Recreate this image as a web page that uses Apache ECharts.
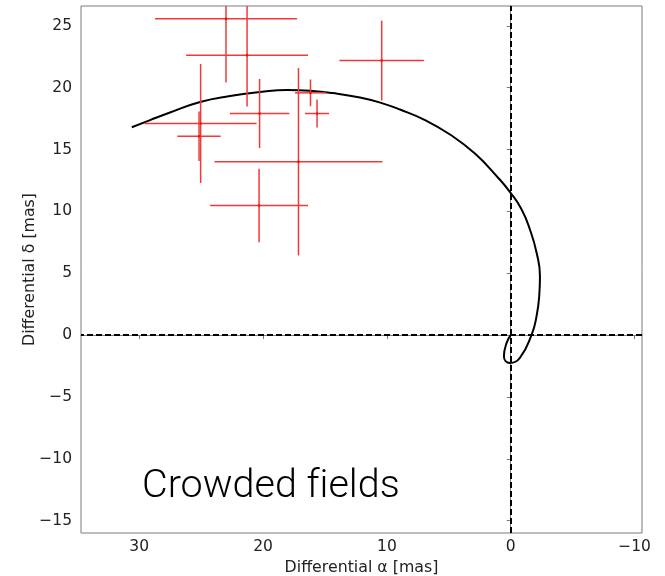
<!DOCTYPE html>
<html>
<head>
<meta charset="utf-8">
<script src="https://cdn.jsdelivr.net/npm/echarts@6/dist/echarts.min.js"></script>
<style>html,body{margin:0;padding:0;background:#fff}#c{width:665px;height:576px}</style>
</head>
<body>
<div id="c"></div>
<script>
// Error-bar points (differential alpha, delta) in mas
var ptX    = [22.99, 21.29, 10.42, 20.28, 17.14, 20.32, 16.17, 15.64, 25.04, 25.17];
var ptY    = [25.56, 22.62, 22.19, 17.91, 14.01, 10.47, 19.58, 17.91, 17.10, 16.07];
var ptXErr = [5.73, 4.92, 3.41, 2.40, 6.78, 3.95, 1.25, 0.97, 4.52, 1.75];
var ptYErr = [5.15, 4.15, 3.23, 2.79, 7.57, 2.97, 1.08, 1.13, 4.81, 2.00];

// Track
var trackX = [30.60, 29.12, 27.51, 25.08, 22.66, 20.24, 18.06, 16.21, 14.35, 12.17, 10.48, 8.94, 6.92, 4.90, 2.89, 1.02, 0.01, -0.88, -1.55, -2.09, -2.36, -2.30, -2.09, -1.69, -0.74, 0.06, 0.55, 0.33, -0.02];
var trackY = [16.80, 17.38, 17.99, 18.84, 19.32, 19.64, 19.81, 19.75, 19.56, 19.20, 18.77, 18.23, 17.38, 16.21, 14.67, 12.72, 11.50, 10.15, 8.53, 6.65, 4.76, 3.14, 1.55, 0.04, -1.84, -2.25, -1.71, -0.63, 0.04];

var xTicks = [30, 20, 10, 0, -10];
var yTicks = [-15, -10, -5, 0, 5, 10, 15, 20, 25];
var xMin = -10.6, xMax = 34.7, yMin = -16.0, yMax = 26.6;

var ebData = ptX.map(function (x, i) { return [x, ptY[i], ptXErr[i], ptYErr[i]]; });
var trackData = trackX.map(function (x, i) { return [x, trackY[i]]; });

function fmt(v) { return v < 0 ? '\u2212' + Math.abs(v) : String(v); }

var axisGray = '#7a7a7a';
var lblStyle = { color: '#222', fontFamily: 'DejaVu Sans', fontSize: 15.5 };

var chart = echarts.init(document.getElementById('c'), null, { renderer: 'canvas' });
chart.setOption({
  animation: false,
  backgroundColor: '#fff',
  grid: { left: 81, top: 6, width: 561, height: 527, outerBoundsMode: 'none', containLabel: false, show: true, borderColor: axisGray, borderWidth: 1, backgroundColor: 'transparent' },
  xAxis: {
    type: 'value', inverse: true, min: xMin, max: xMax,
    name: 'Differential \u03b1 [mas]', nameLocation: 'middle', nameGap: 25,
    nameTextStyle: { color: '#222', fontFamily: 'DejaVu Sans', fontSize: 15.8 },
    axisLine: { show: true, lineStyle: { color: axisGray, width: 1 } },
    axisTick: { show: true, length: 4, lineStyle: { color: axisGray }, customValues: xTicks },
    axisLabel: Object.assign({ margin: 6, customValues: xTicks, formatter: fmt }, lblStyle),
    splitLine: { show: false }
  },
  yAxis: {
    type: 'value', min: yMin, max: yMax,
    name: 'Differential \u03b4 [mas]', nameLocation: 'middle', nameGap: 43, nameRotate: 90, nameMoveOverlap: false,
    nameTextStyle: { color: '#222', fontFamily: 'DejaVu Sans', fontSize: 15.8 },
    axisLine: { show: true, lineStyle: { color: axisGray, width: 1 } },
    axisTick: { show: true, length: 4, lineStyle: { color: axisGray }, customValues: yTicks },
    axisLabel: Object.assign({ margin: 9, customValues: yTicks, formatter: fmt }, lblStyle),
    splitLine: { show: false }
  },
  graphic: [{
    type: 'text', left: 142, top: 467,
    style: { text: 'Crowded f\u200Cields', font: '300 39.5px Roboto', fill: '#000' }
  }],
  series: [
    {
      type: 'line', data: trackData, showSymbol: false, smooth: 0.5,
      lineStyle: { color: '#000', width: 2 }, z: 3,
      markLine: {
        silent: true, symbol: ['none', 'none'], label: { show: false },
        lineStyle: { color: '#000', type: [6, 3], width: 2 },
        data: [{ xAxis: 0 }, { yAxis: 0 }]
      }
    },
    {
      type: 'custom', data: ebData, z: 4, clip: true,
      renderItem: function (params, api) {
        var x = api.value(0), y = api.value(1), ex = api.value(2), ey = api.value(3);
        var a = api.coord([x - ex, y]), b = api.coord([x + ex, y]);
        var c = api.coord([x, y - ey]), d = api.coord([x, y + ey]);
        var ctr = api.coord([x, y]);
        var st = { stroke: '#f03a3a', lineWidth: 1.5 };
        return {
          type: 'group', children: [
            { type: 'line', shape: { x1: a[0], y1: a[1], x2: b[0], y2: b[1] }, style: st },
            { type: 'line', shape: { x1: c[0], y1: c[1], x2: d[0], y2: d[1] }, style: st },
            { type: 'circle', shape: { cx: ctr[0], cy: ctr[1], r: 1.3 }, style: { fill: '#e81010' } }
          ]
        };
      }
    }
  ]
});
</script>
</body>
</html>
